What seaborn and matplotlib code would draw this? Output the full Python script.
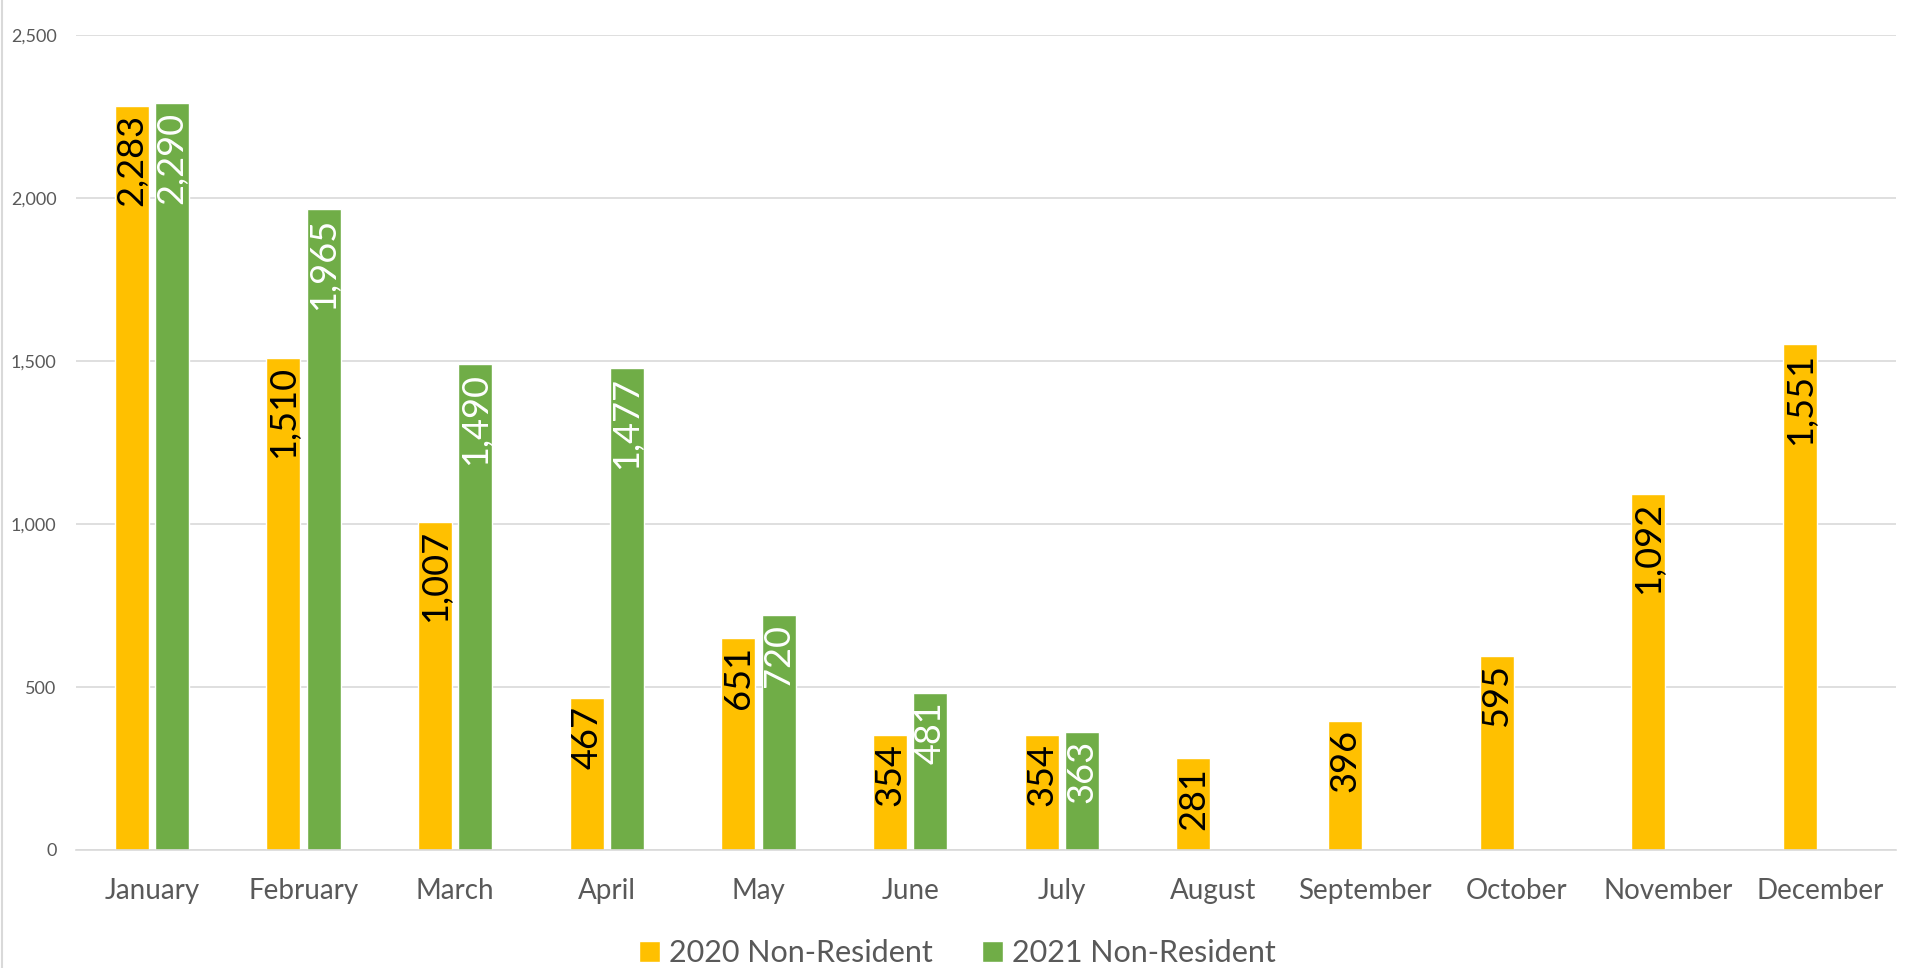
import numpy as np
import pandas as pd
import matplotlib
matplotlib.use('Agg')
import matplotlib.pyplot as plt
import seaborn as sns
from matplotlib.lines import Line2D

# ===================== data =====================
months = ['January', 'February', 'March', 'April', 'May', 'June', 'July',
          'August', 'September', 'October', 'November', 'December']
nr_2020 = [2283, 1510, 1007, 467, 651, 354, 354, 281, 396, 595, 1092, 1551]
nr_2021 = [2290, 1965, 1490, 1477, 720, 481, 363,
           np.nan, np.nan, np.nan, np.nan, np.nan]
series = ['2020 Non-Resident', '2021 Non-Resident']

df = pd.DataFrame({
    'Month': months * 2,
    'Value': nr_2020 + nr_2021,
    'Series': [series[0]] * 12 + [series[1]] * 12,
})

colors = {series[0]: '#FFC000', series[1]: '#70AD47'}
label_colors = {series[0]: 'black', series[1]: 'white'}

sns.set_theme(style='white')
plt.rcParams['font.family'] = ['Lato', 'DejaVu Sans']

fig = plt.figure(figsize=(19.15, 9.68), dpi=100)
ax = fig.add_axes([76 / 1915, 1 - 850 / 968, (1896 - 76) / 1915, (850 - 35) / 968])

sns.barplot(data=df, x='Month', y='Value', hue='Series', order=months,
            hue_order=series, palette=colors, width=0.53, gap=0.15,
            saturation=1, ax=ax, legend=True)

# value labels inside the bar tops
for cont, s in zip(ax.containers, series):
    for bar, v in zip(cont.patches, cont.datavalues):
        if np.isnan(v):
            continue
        ax.annotate(f'{v:,.0f}', (bar.get_x() + bar.get_width() / 2, bar.get_height()),
                    xytext=(0, -6), textcoords='offset points', rotation=90,
                    ha='center', va='top', fontsize=26, color=label_colors[s])

ax.set_ylim(0, 2500)
ax.set_yticks(range(0, 2501, 500))
ax.set_yticklabels([f'{t:,}' for t in range(0, 2501, 500)], fontsize=13, color='#595959')
ax.tick_params(axis='y', pad=14, length=0)
ax.tick_params(axis='x', labelsize=20, labelcolor='#595959', length=0, pad=20)
ax.set_xlabel('')
ax.set_ylabel('')
ax.set_xlim(-0.5, 11.5)
ax.yaxis.grid(True, color='#D9D9D9', linewidth=1.2)
ax.set_axisbelow(True)
for side in ['top', 'right', 'left']:
    ax.spines[side].set_visible(False)
ax.spines['bottom'].set_color('#D9D9D9')
ax.spines['bottom'].set_linewidth(1.2)

ax.legend(loc='center', bbox_to_anchor=(0.5, 1 - 953 / 968), ncol=2,
          frameon=False, fontsize=22, handlelength=0.7, handleheight=0.7,
          handletextpad=0.3, columnspacing=1.6, labelcolor='#595959',
          bbox_transform=fig.transFigure)

# thin gray border line at left edge of the image
fig.add_artist(Line2D([2 / 1915, 2 / 1915], [0, 1], transform=fig.transFigure,
                      color='#D9D9D9', linewidth=1.5))

fig.savefig('out.png', dpi=100)
